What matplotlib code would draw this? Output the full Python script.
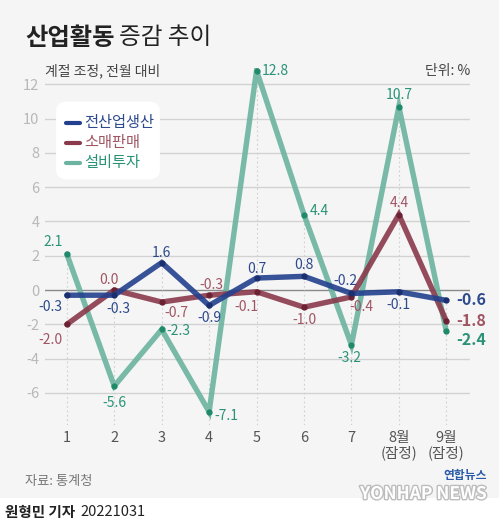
"""산업활동 증감 추이 - line chart recreation."""

import matplotlib
matplotlib.use("Agg")
import matplotlib.pyplot as plt
import matplotlib.patheffects as pe
from matplotlib.lines import Line2D
from matplotlib.patches import Rectangle, FancyBboxPatch

plt.rcParams["font.family"] = ["Noto Sans CJK KR", "DejaVu Sans"]

# ── Data ─────────────────────────────────────────────────────────────────────
months     = [1, 2, 3, 4, 5, 6, 7, 8, 9]
month_lbls = ["1", "2", "3", "4", "5", "6", "7", "8월\n(잠정)", "9월\n(잠정)"]

production = [-0.3, -0.3, 1.6, -0.9, 0.7, 0.8, -0.2, -0.1, -0.6]   # 전산업생산
retail     = [-2.0, 0.0, -0.7, -0.3, -0.1, -1.0, -0.4, 4.4, -1.8]   # 소매판매
investment = [2.1, -5.6, -2.3, -7.1, 12.8, 4.4, -3.2, 10.7, -2.4]   # 설비투자

y_ticks = [-6, -4, -2, 0, 2, 4, 6, 8, 10, 12]

# ── Styles ───────────────────────────────────────────────────────────────────
W, H = 499, 525
BG = "#f5f5f5"
NAVY, NAVY_TXT = "#23408e", "#2d4a8c"
MAROON, MAROON_TXT = "#8a3a4c", "#a05563"
TEAL, TEAL_TXT = "#6cb3a0", "#2a9377"

# label offsets in pixels (dx, dy) per point, with alignment
prod_off = [(-16, -12, "center"), (4, -14, "center"), (0, 10, "center"),
            (0, -13, "center"), (0, 9, "center"), (0, 11, "center"),
            (-6, 12, "center"), (0, -13, "center")]
ret_off = [(-16, -16, "center"), (-5, 10, "center"), (3, -11, "left"),
           (2, 10, "center"), (-10, -15, "center"), (0, -13, "center"),
           (-2, -10, "left"), (0, 12, "center")]
inv_off = [(-4, 12, "right"), (0, -17, "center"), (5, -2, "left"),
           (5, -4, "left"), (5, 0, "left"), (6, 4, "left"),
           (-2, -13, "center"), (0, 12, "center")]


def fx(px):
    return px / W


def fy(py):
    return 1 - py / H


fig = plt.figure(figsize=(W / 100, H / 100), dpi=100)
fig.patch.set_facecolor("white")
fig.patches.append(Rectangle((0, fy(498)), 1, 498 / H,
                             transform=fig.transFigure, facecolor=BG,
                             edgecolor="none", zorder=-5))

ax = fig.add_axes([fx(45), fy(425), 425 / W, 357 / H])
ax.set_facecolor("none")
ax.set_xlim(0.54, 9.5)
ax.set_ylim(-7.87, 12.95)

for y in y_ticks:
    ax.axhline(y, color="#8a8a8a" if y == 0 else "#d2d2d2",
               lw=1.0, zorder=1)
tops = [max(a, b, c) for a, b, c in zip(production, retail, investment)]
ax.vlines(months, -7.87, tops, color="#cfcfcf", lw=0.8,
          linestyles=(0, (1.5, 2.5)), zorder=1)

series = [
    (investment, TEAL, "#1f8a6a", TEAL_TXT, inv_off),
    (retail, MAROON, "#6b2234", MAROON_TXT, ret_off),
    (production, NAVY, "#1b2f6e", NAVY_TXT, prod_off),
]
for z, (vals, col, dot, tcol, offs) in enumerate(series):
    ax.plot(months, vals, color=col, lw=3.9, alpha=0.9,
            solid_capstyle="round", solid_joinstyle="miter", zorder=3 + z)
    ax.plot(months, vals, "o", color=dot, ms=3.5, zorder=3 + z)
    for m, v, (dx, dy, ha) in zip(months[:-1], vals[:-1], offs):
        ax.annotate(f"{v:.1f}", (m, v), xytext=(dx * 0.72, dy * 0.72),
                    textcoords="offset points", ha=ha, va="center",
                    fontsize=10, color=tcol, zorder=10)

# final (bold) values at month 9
for vals, tcol, dy in [(production, NAVY_TXT, 0), (retail, MAROON_TXT, 0),
                       (investment, TEAL_TXT, -6)]:
    ax.annotate(f"{vals[-1]:.1f}", (months[-1], vals[-1]),
                xytext=(7, dy), textcoords="offset points", ha="left",
                va="center", fontsize=11.5, fontweight="bold", color=tcol,
                zorder=10)

ax.set_yticks(y_ticks)
ax.set_yticklabels([str(t) for t in y_ticks])
ax.set_xticks(months)
ax.set_xticklabels(month_lbls, linespacing=1.1)
ax.tick_params(axis="y", length=0, pad=4, labelsize=10.5, labelcolor="#b8b8b8")
ax.tick_params(axis="x", length=0, pad=4, labelsize=10.5, labelcolor="#555555")
for s in ax.spines.values():
    s.set_visible(False)

# ── Legend (drawn by hand in figure pixels) ─────────────────────────────────
fig.patches.append(FancyBboxPatch((fx(62), fy(173)), fx(92), 65 / H,
                                  boxstyle="round,pad=0.012,rounding_size=0.02",
                                  transform=fig.transFigure, facecolor="white",
                                  edgecolor="none", zorder=2))
for i, (name, col, tcol) in enumerate([("전산업생산", NAVY, NAVY_TXT),
                                       ("소매판매", MAROON, MAROON_TXT),
                                       ("설비투자", TEAL, TEAL_TXT)]):
    yy = fy(123 + 20 * i)
    fig.lines.append(Line2D([fx(66), fx(80)], [yy, yy], color=col, lw=3,
                            solid_capstyle="round",
                            transform=fig.transFigure, zorder=3))
    fig.text(fx(84), yy, name, fontsize=11, color=tcol, va="center",
             zorder=3)

# ── Titles and footer ───────────────────────────────────────────────────────
fig.text(fx(25), fy(38), "산업활동", fontsize=17.5, fontweight="bold",
         color="#222222", va="center")
fig.text(fx(119), fy(38), "증감 추이", fontsize=17,
         color="#222222", va="center")
fig.text(fx(45), fy(71), "계절 조정, 전월 대비", fontsize=10,
         color="#444444", va="center")
fig.text(fx(470), fy(71), "단위: %", fontsize=10,
         color="#444444", va="center", ha="right")
fig.text(fx(25), fy(481), "자료: 통계청", fontsize=9.5,
         color="#777777", va="center")
fig.text(fx(5), fy(512), "원형민 기자", fontsize=10.5, fontweight="bold",
         color="#222222", va="center")
fig.text(fx(80), fy(512), "20221031", fontsize=10.5,
         color="#222222", va="center")
fig.text(fx(487), fy(475), "연합뉴스", fontsize=8.5, fontweight="bold",
         color="#2a5ba8", va="center", ha="right")
fig.text(fx(487), fy(494), "YONHAP NEWS", fontsize=12.5,
         fontweight="bold", fontstyle="italic", color="white",
         va="center", ha="right", zorder=5,
         path_effects=[pe.withStroke(linewidth=2, foreground="#bdbdbd")])

fig.savefig("out.png", dpi=100, facecolor="white")
